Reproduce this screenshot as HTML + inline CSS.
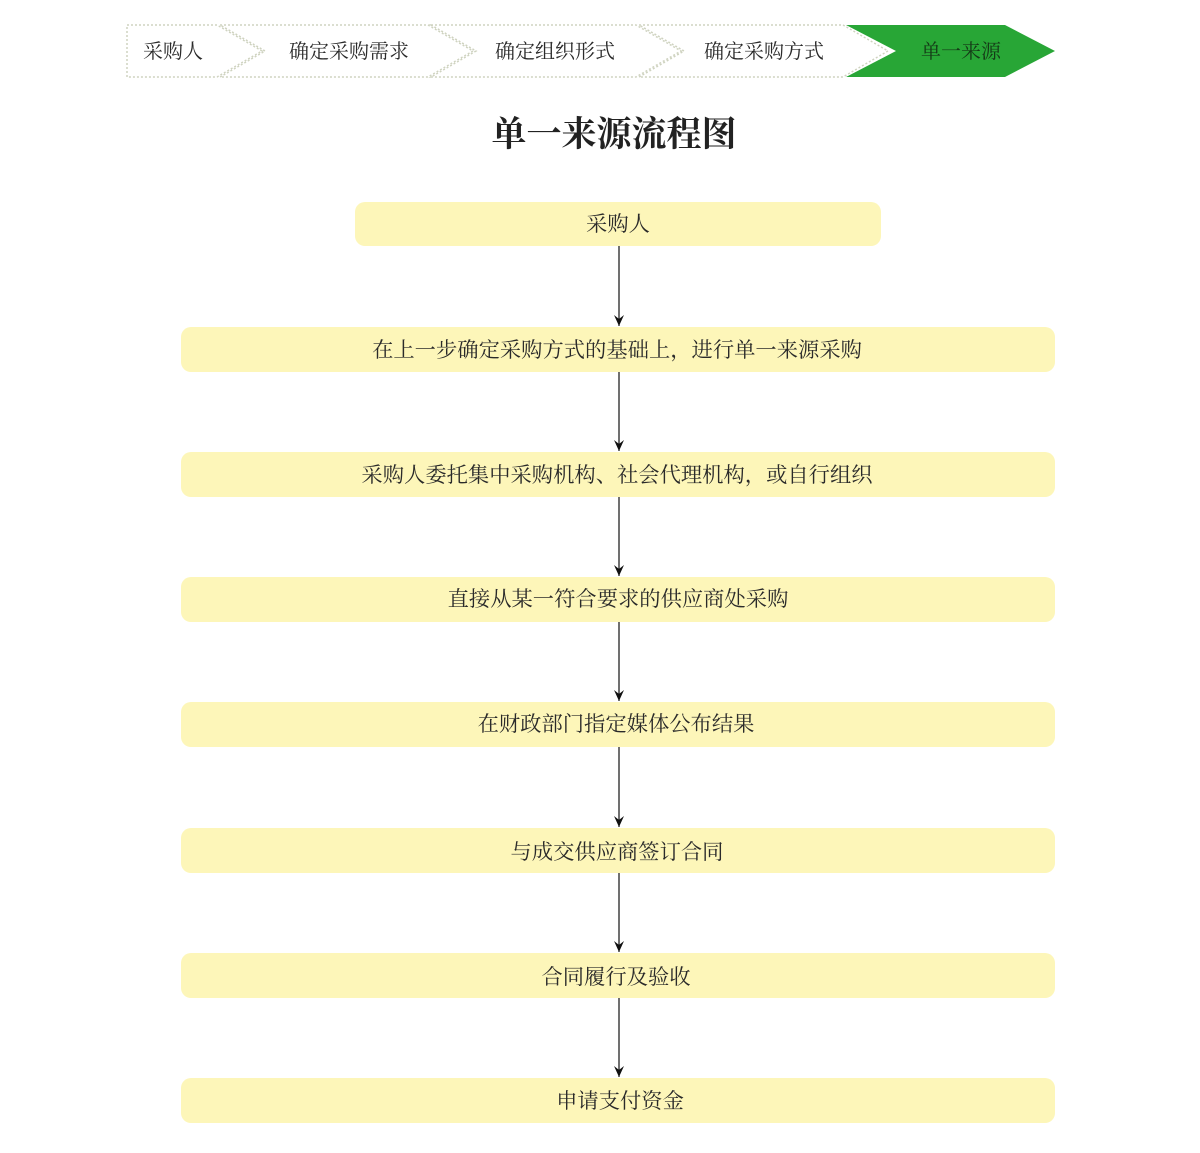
<!DOCTYPE html>
<html><head><meta charset="utf-8">
<style>
html,body{margin:0;padding:0;background:#fff;}
svg{display:block;}
text{font-family:"Liberation Serif","Noto Serif CJK SC",serif;fill:#2a2a2a;}
</style></head><body>
<svg width="1200" height="1153" viewBox="0 0 1200 1153" xmlns="http://www.w3.org/2000/svg">
<defs>
<marker id="ah" markerWidth="12" markerHeight="10" refX="11" refY="5" orient="auto" markerUnits="userSpaceOnUse">
<path d="M0,0 L11,5 L0,10 L4,5 Z" fill="#111"/>
</marker>
</defs>
<!-- breadcrumb -->
<g fill="none" stroke="#cfd3c0" stroke-width="1.5" stroke-dasharray="2,2">
<path d="M127,25 L217,25 L262,51 L217,77 L127,77 Z"/>
<path d="M220,25 L428,25 L473,51 L428,77 L220,77 L265,51 Z"/>
<path d="M431,25 L636,25 L681,51 L636,77 L431,77 L476,51 Z"/>
<path d="M639,25 L843,25 L888,51 L843,77 L639,77 L684,51 Z"/>
</g>
<path d="M846,25 L1005,25 L1055,51 L1005,77 L846,77 L896,51 Z" fill="#28a636"/>
<g font-size="20">
<text x="173" y="58" text-anchor="middle">采购人</text>
<text x="349" y="58" text-anchor="middle">确定采购需求</text>
<text x="555" y="58" text-anchor="middle">确定组织形式</text>
<text x="764" y="58" text-anchor="middle">确定采购方式</text>
<text x="961" y="58" text-anchor="middle" style="fill:#153a17">单一来源</text>
</g>
<text x="614" y="146" font-size="35" font-weight="bold" text-anchor="middle" style="fill:#222">单一来源流程图</text>
<!-- boxes -->
<g fill="#fdf6b9">
<rect x="355" y="202" width="526" height="44" rx="10"/>
<rect x="181" y="327" width="874" height="45" rx="10"/>
<rect x="181" y="452" width="874" height="45" rx="10"/>
<rect x="181" y="577" width="874" height="45" rx="10"/>
<rect x="181" y="702" width="874" height="45" rx="10"/>
<rect x="181" y="828" width="874" height="45" rx="10"/>
<rect x="181" y="953" width="874" height="45" rx="10"/>
<rect x="181" y="1078" width="874" height="45" rx="10"/>
</g>
<g stroke="#111" stroke-width="1.2" marker-end="url(#ah)">
<line x1="619" y1="246" x2="619" y2="326"/>
<line x1="619" y1="372" x2="619" y2="451"/>
<line x1="619" y1="497" x2="619" y2="576"/>
<line x1="619" y1="622" x2="619" y2="701"/>
<line x1="619" y1="747" x2="619" y2="827"/>
<line x1="619" y1="873" x2="619" y2="952"/>
<line x1="619" y1="998" x2="619" y2="1077"/>
</g>
<g font-size="21.3" text-anchor="middle">
<text x="618" y="231">采购人</text>
<text x="617" y="357">在上一步确定采购方式的基础上，进行单一来源采购</text>
<text x="617" y="482">采购人委托集中采购机构、社会代理机构，或自行组织</text>
<text x="618" y="606">直接从某一符合要求的供应商处采购</text>
<text x="616" y="731">在财政部门指定媒体公布结果</text>
<text x="617" y="859">与成交供应商签订合同</text>
<text x="616" y="984">合同履行及验收</text>
<text x="620" y="1108">申请支付资金</text>
</g>
</svg>
</body></html>
